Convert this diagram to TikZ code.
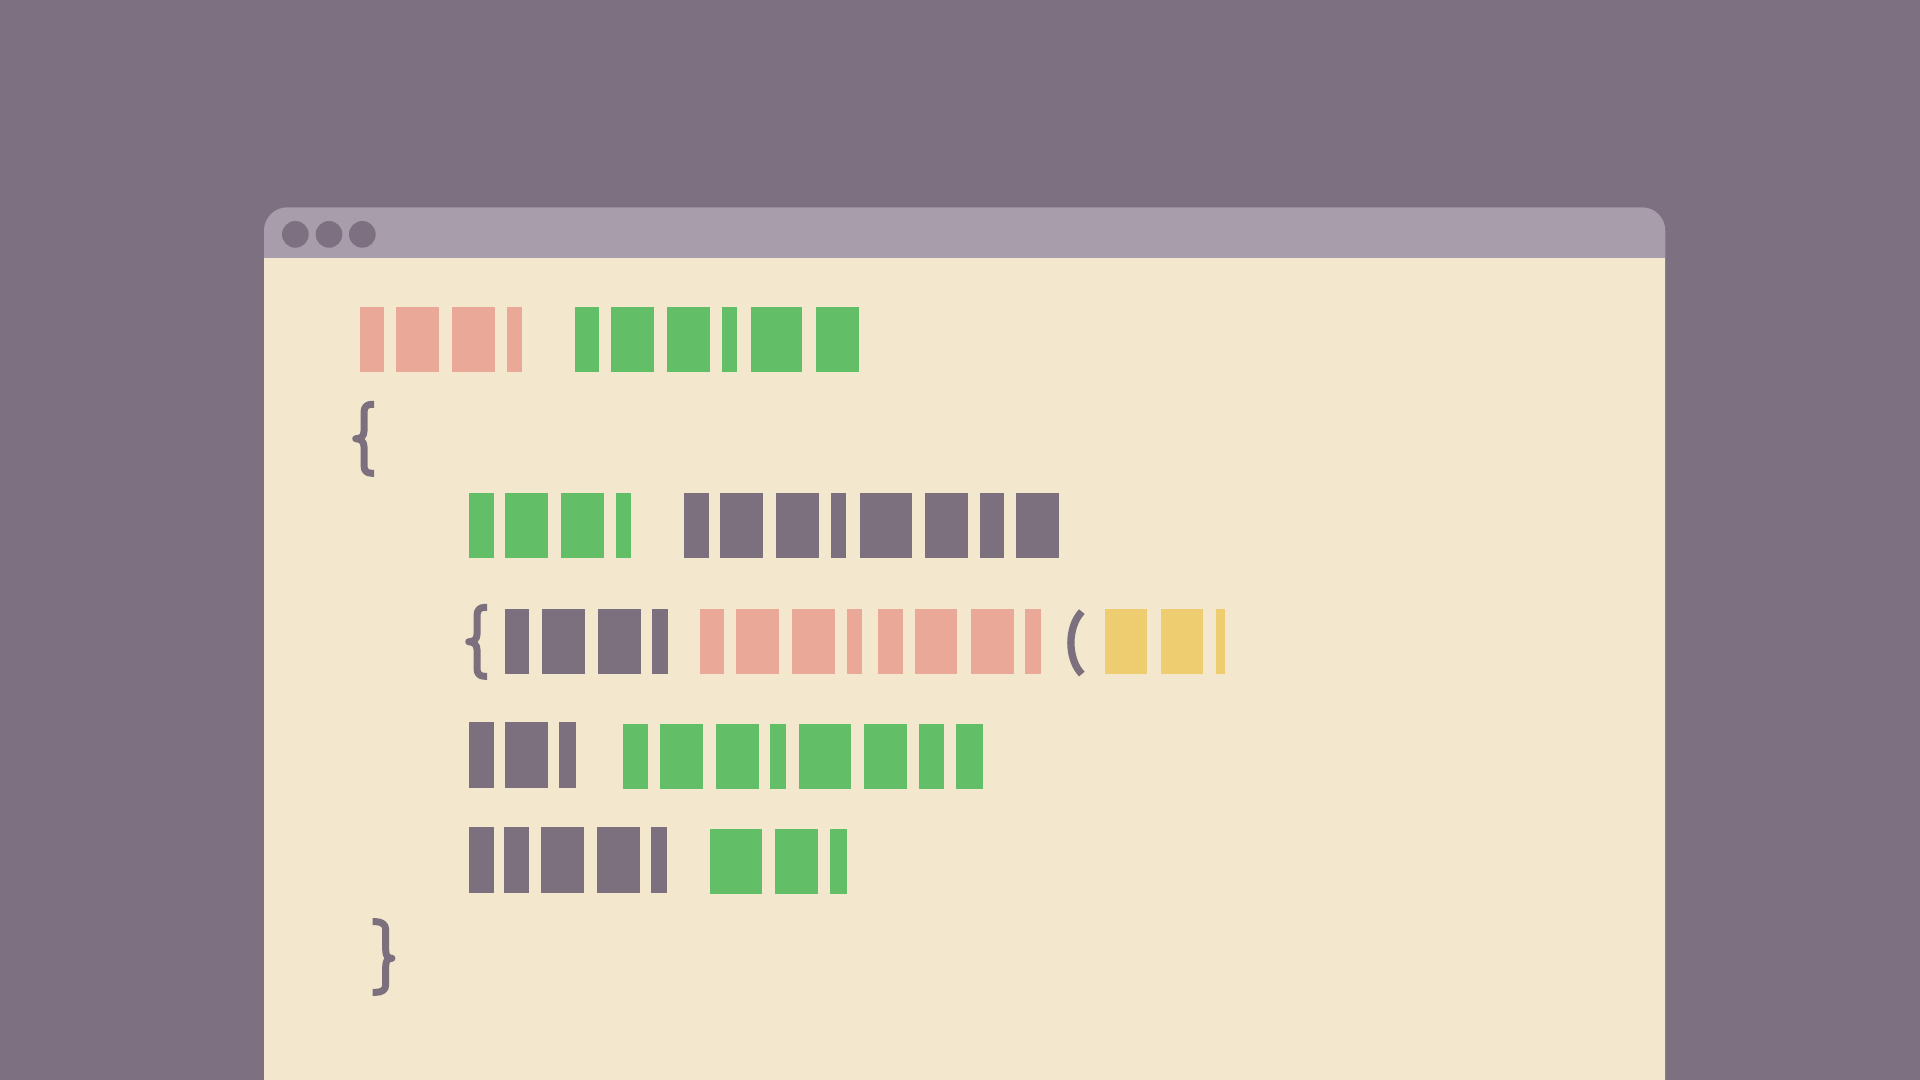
\documentclass[tikz,border=0pt]{standalone}
\definecolor{backdrop}{RGB}{125,112,128}
\definecolor{barpurple}{RGB}{168,157,170}
\definecolor{paper}{RGB}{243,231,206}
\definecolor{tokpink}{RGB}{234,168,152}
\definecolor{tokgreen}{RGB}{99,190,104}
\definecolor{tokgray}{RGB}{125,112,126}
\definecolor{tokyellow}{RGB}{238,205,112}

\begin{document}
\begin{tikzpicture}[
% Window style
		x=0.01cm, y=-0.01cm,
		winbar/.style={fill=barpurple
							    , rounded corners=0.19cm},
		winbody/.style={fill=paper},
		winbtn/.style={fill=backdrop},
% Token style
		keyword/.style={fill=tokpink},
		ident/.style={fill=tokgreen},
		plain/.style={fill=tokgray},
		literal/.style={fill=tokyellow},
		punct/.style={draw=tokgray
							    , line width=0.057cm
							    , line join=round}
	]
%% Backdrop and window
		\fill[backdrop] (0,0) rectangle (1568,882);
		\useasboundingbox (0,0) rectangle (1568,882);
		\fill[winbar] (215.6,950) -- (215.6,169.3) -- (1360,169.3) -- (1360,950) -- cycle;
		\fill[winbody] (215.6,211) rectangle (1360,882);
		\foreach \x in {241.2,268.7,295.9}
			\fill[winbtn] (\x,191.4) circle[radius=0.109cm];
%% Line 1
		\foreach \l/\r in {293.7/313.9, 323.4/358.5, 369.1/404.2, 413.8/426.3}
			\fill[keyword] (\l,250.7) rectangle (\r,304.1);
		\foreach \l/\r in {469.3/489.4, 499.2/534.1, 544.9/579.8, 589.6/602.1, 613.0/655.2, 666.4/701.2}
			\fill[ident] (\l,250.7) rectangle (\r,304.1);
%% Opening brace
		\draw[punct] (305.5,330.2) -- (303.5,330.2) .. controls (299.5,330.2) and (297.3,332.5) .. (297.3,336.5)
			-- (297.3,352) .. controls (297.3,356.5) and (294.5,358.3) .. (290.5,358.3)
			.. controls (294.5,358.3) and (297.3,360.5) .. (297.3,365)
			-- (297.3,380.5) .. controls (297.3,384.5) and (299.5,386.5) .. (303.5,386.5) -- (305.5,386.5);
%% Line 2
		\foreach \l/\r in {383.0/403.2, 412.7/447.5, 458.4/493.3, 503.1/515.6}
			\fill[ident] (\l,402.3) rectangle (\r,455.7);
		\foreach \l/\r in {558.6/578.7, 588.3/623.4, 634.0/669.1, 678.9/691.1, 702.3/744.5, 755.6/790.3, 800.1/820.2, 829.7/864.6}
			\fill[plain] (\l,402.3) rectangle (\r,455.7);
%% Line 3
		\begin{scope}[shift={(92.3,165.8)}]
			\draw[punct] (305.5,330.2) -- (303.5,330.2) .. controls (299.5,330.2) and (297.3,332.5) .. (297.3,336.5)
				-- (297.3,352) .. controls (297.3,356.5) and (294.5,358.3) .. (290.5,358.3)
				.. controls (294.5,358.3) and (297.3,360.5) .. (297.3,365)
				-- (297.3,380.5) .. controls (297.3,384.5) and (299.5,386.5) .. (303.5,386.5) -- (305.5,386.5);
		\end{scope}
		\foreach \l/\r in {412.3/432.3, 442.3/477.4, 488.2/523.1, 532.7/545.3}
			\fill[plain] (\l,497.3) rectangle (\r,550.5);
		\foreach \l/\r in {571.5/591.1, 601.1/636.1, 646.9/681.9, 691.9/704.0, 717.4/737.4, 747.3/781.9, 793.1/828.2, 837.3/850.2}
			\fill[keyword] (\l,497.5) rectangle (\r,550.7);
		\draw[punct, line width=0.06cm] (883.5,499.5) .. controls (871.6,512) and (871.6,538) .. (883.5,550.5);
		\foreach \l/\r in {902.3/936.9, 948.1/982.8, 992.7/1000.3}
			\fill[literal] (\l,497.4) rectangle (\r,550.3);
%% Line 4
		\foreach \l/\r in {383.2/403.2, 412.6/447.5, 456.9/470.1}
			\fill[plain] (\l,589.9) rectangle (\r,643.3);
		\foreach \l/\r in {509.1/529.1, 538.8/573.8, 584.4/619.8, 629.1/642.0, 652.6/695.1, 706.0/741.1, 750.4/770.7, 780.4/802.9}
			\fill[ident] (\l,591.3) rectangle (\r,644.6);
%% Line 5
		\foreach \l/\r in {383.2/403.2, 411.9/431.9, 441.6/476.6, 487.2/522.3, 532.0/544.5}
			\fill[plain] (\l,675.6) rectangle (\r,729.3);
		\foreach \l/\r in {579.7/622.3, 632.9/667.9, 677.6/691.6}
			\fill[ident] (\l,677.0) rectangle (\r,730.3);
%% Closing brace
		\draw[punct] (304.4,752.7) -- (307,752.7) .. controls (311.5,752.7) and (315,755) .. (315,759)
			-- (315,776) .. controls (315,780.5) and (316.5,782.6) .. (320.1,782.6)
			.. controls (316.5,782.6) and (315,784.7) .. (315,789.2)
			-- (315,804.5) .. controls (315,808.5) and (311.5,810.4) .. (307,810.4) -- (304.4,810.4);
\end{tikzpicture}
\end{document}
